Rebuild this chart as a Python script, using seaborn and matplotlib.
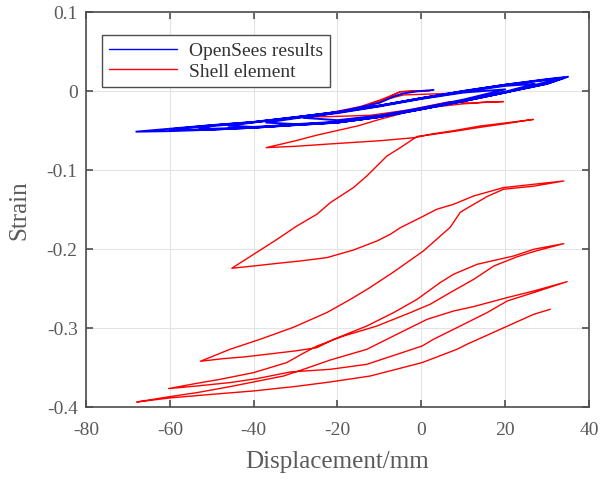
"""
Strain vs displacement hysteresis: OpenSees fibre model vs shell element.
"""
import matplotlib
matplotlib.use("Agg")
import matplotlib.pyplot as plt
import seaborn as sns

# --- data (displacement in mm, strain) ---
# OpenSees results: one continuous loading path
blue_x = [2.9, -1.0, -4.2, -6.6, -10.0, -20.0, -28.0,
          -20.0, -10.0, 0.0, 10.0, 20.0,
          10.0, 0.0, -10.0, -20.0, -30.0, -37.0,
          -30.0, -20.0, -10.0, 0.0, 10.0, 20.0, 27.0,
          20.0, 10.0, 0.0, -10.0, -20.0, -30.0, -40.0, -46.0,
          -40.0, -30.0, -20.0, -10.0, 0.0, 10.0, 20.0, 30.0, 34.0,
          30.0, 20.0, 10.0, 0.0, -10.0, -20.0, -30.0, -40.0, -50.0, -53.0,
          -50.0, -40.0, -30.0, -20.0, -10.0, 0.0, 10.0, 20.0, 30.0, 34.0,
          30.0, 20.0, 10.0, 0.0, -10.0, -20.0, -30.0, -40.0, -50.0, -60.0,
          -50.0, -40.0, -30.0, -20.0, -10.0, 0.0, 10.0, 20.0, 30.0, 35.0,
          30.0, 20.0, 10.0, 0.0, -10.0, -20.0, -30.0, -40.0, -50.0, -60.0, -68.0,
          -60.0, -50.0, -40.0, -30.0, -20.0, -10.0, 0.0, 10.0, 20.0, 31.0]
blue_y = [0.0013, -0.0005, -0.0030, -0.0070, -0.0150, -0.0270, -0.0340,
          -0.0370, -0.0310, -0.0215, -0.0110, 0.0020,
          -0.0020, -0.0100, -0.0195, -0.0280, -0.0345, -0.0400,
          -0.0420, -0.0390, -0.0320, -0.0225, -0.0120, -0.0010, 0.0090,
          0.0065, -0.0010, -0.0095, -0.0190, -0.0272, -0.0338, -0.0398, -0.0440,
          -0.0455, -0.0425, -0.0395, -0.0325, -0.0228, -0.0125, -0.0015, 0.0095, 0.0165,
          0.0140, 0.0075, -0.0005, -0.0092, -0.0188, -0.0268, -0.0335, -0.0395, -0.0445, -0.0465,
          -0.0478, -0.0462, -0.0428, -0.0398, -0.0328, -0.0230, -0.0128, -0.0018, 0.0092, 0.0168,
          0.0145, 0.0078, -0.0002, -0.0090, -0.0186, -0.0266, -0.0332, -0.0393, -0.0435, -0.0485,
          -0.0488, -0.0465, -0.0430, -0.0400, -0.0330, -0.0232, -0.0130, -0.0020, 0.0090, 0.0180,
          0.0150, 0.0080, 0.0000, -0.0090, -0.0185, -0.0265, -0.0330, -0.0392, -0.0432, -0.0478, -0.0515,
          -0.0508, -0.0490, -0.0465, -0.0432, -0.0400, -0.0330, -0.0232, -0.0130, -0.0020, 0.0130]

# Shell element: one continuous loading path
red_x = [6.9, 1.0, -4.2, -7.4, -12.0, -8.5, -5.0, 2.1, -1.5, -5.0, -9.8, -14.6, -21.7, -28.1,
         -21.7, -12.2, -3.0, 3.0, 6.9, 11.7, 15.5, 19.6,
         14.0, 9.5, 5.3, 0.5, -5.0, -10.0, -15.0, -19.7, -25.0, -30.0, -37.0,
         -30.0, -21.7, -10.0, -1.4, 2.1, 8.0, 14.1, 20.0, 26.7,
         20.0, 14.0, 8.0, 2.0, -1.0,
         -5.0, -8.2, -10.6, -13.0, -16.2, -21.7, -24.9, -29.7, -34.4, -40.0, -45.2,
         -40.0, -34.0, -28.9, -22.5, -16.2, -10.6, -7.4, -5.0, -0.2, 3.7, 7.7, 12.5, 19.6, 26.8, 34.0,
         26.8, 19.6, 15.8, 11.7, 9.3, 6.9, 0.5, -6.7, -12.9, -17.0, -22.4, -30.5, -38.4, -45.6, -52.7,
         -47.2, -42.0, -36.8, -30.0, -24.9,
         -20.9, -13.0, -6.6, -1.0, 4.5, 7.7, 13.3, 22.0, 26.8, 34.0,
         27.0, 22.8, 17.3, 12.5, 6.9, 2.1, -2.6, -10.6, -18.5, -24.9,
         -28.5, -32.1, -40.0, -48.0, -53.5, -60.3,
         -53.5, -45.6, -39.2, -31.3, -21.7, -13.0, -5.8, 0.2, 2.9, 9.3, 15.7, 20.5, 26.8, 34.8,
         26.8, 20.5, 12.5, 7.7, 1.4, -5.0, -13.0, -21.7, -28.1, -32.9, -40.0, -45.6, -53.5, -59.9, -67.9,
         -59.9, -50.0, -40.0, -30.0, -21.7, -12.2, -5.8, 0.2, 8.5, 10.9, 18.9, 26.8, 30.8]
red_y = [-0.0030, -0.0040, -0.0050, -0.0092, -0.0160, -0.0100, -0.0008, 0.0005, 0.0000, -0.0010,
         -0.0114, -0.0198, -0.0274, -0.0330,
         -0.0324, -0.0308, -0.0240, -0.0175, -0.0134, -0.0156, -0.0140, -0.0134,
         -0.0147, -0.0165, -0.0190, -0.0219, -0.0290, -0.0360, -0.0440, -0.0497, -0.0560, -0.0630, -0.0717,
         -0.0700, -0.0670, -0.0630, -0.0590, -0.0548, -0.0500, -0.0443, -0.0405, -0.0360,
         -0.0415, -0.0460, -0.0510, -0.0555, -0.0575,
         -0.0717, -0.0823, -0.0949, -0.1076, -0.1223, -0.1413, -0.1560, -0.1709, -0.1877, -0.2067, -0.2244,
         -0.2215, -0.2180, -0.2152, -0.2109, -0.2013, -0.1899, -0.1814, -0.1730, -0.1603, -0.1497,
         -0.1434, -0.1329, -0.1223, -0.1181, -0.1139,
         -0.1205, -0.1244, -0.1333, -0.1459, -0.1535, -0.1725, -0.2025, -0.2294, -0.2510, -0.2640,
         -0.2801, -0.2991, -0.3142, -0.3269, -0.3421,
         -0.3388, -0.3365, -0.3333, -0.3290, -0.3249,
         -0.3143, -0.2975, -0.2805, -0.2637, -0.2425, -0.2320, -0.2194, -0.2089, -0.2004, -0.1932,
         -0.2030, -0.2100, -0.2215, -0.2384, -0.2552, -0.2700, -0.2805, -0.2975, -0.3101, -0.3228,
         -0.3330, -0.3438, -0.3565, -0.3650, -0.3700, -0.3767,
         -0.3734, -0.3691, -0.3641, -0.3557, -0.3523, -0.3460, -0.3333, -0.3228, -0.3143, -0.2975,
         -0.2805, -0.2658, -0.2552, -0.2413,
         -0.2532, -0.2615, -0.2729, -0.2785, -0.2890, -0.3058, -0.3270, -0.3405, -0.3523, -0.3608,
         -0.3683, -0.3742, -0.3818, -0.3868, -0.3937,
         -0.3885, -0.3840, -0.3797, -0.3740, -0.3683, -0.3608, -0.3520, -0.3438, -0.3270, -0.3206,
         -0.3016, -0.2827, -0.2763]

x_ticks = [-80, -60, -40, -20, 0, 20, 40]
y_ticks = [-0.4, -0.3, -0.2, -0.1, 0, 0.1]
y_tick_labels = ["-0.4", "-0.3", "-0.2", "-0.1", "0", "0.1"]

sns.set_theme(style="whitegrid")
plt.rcParams["font.family"] = ["Liberation Serif", "DejaVu Serif"]

axis_grey = "#4d4d4d"
text_grey = "#5a5a5a"

fig, ax = plt.subplots(figsize=(6.01, 4.81), dpi=100)
fig.subplots_adjust(left=0.1431, right=0.980, bottom=0.1518, top=0.973)

sns.lineplot(x=blue_x, y=blue_y, sort=False, estimator=None, color="#0000ff",
             linewidth=1.4, label="OpenSees results", ax=ax, zorder=3)
sns.lineplot(x=red_x, y=red_y, sort=False, estimator=None, color="#ff0000",
             linewidth=1.0, label="Shell element", ax=ax, zorder=2)

ax.set_xlim(-80, 40)
ax.set_ylim(-0.4, 0.1)
ax.set_xticks(x_ticks)
ax.set_xticklabels([str(t) for t in x_ticks])
ax.set_yticks(y_ticks)
ax.set_yticklabels(y_tick_labels)

ax.set_facecolor("white")
ax.grid(True, color="#e3e3e3", linewidth=0.8)
for side in ["left", "right", "top", "bottom"]:
    ax.spines[side].set_visible(True)
    ax.spines[side].set_color(axis_grey)
    ax.spines[side].set_linewidth(1.2)

ax.tick_params(axis="both", direction="in", length=5, width=1.2, color=axis_grey,
               labelsize=14, labelcolor=text_grey, top=True, right=True,
               bottom=True, left=True)
ax.tick_params(axis="x", pad=10)
ax.tick_params(axis="y", pad=6)

ax.set_xlabel("Displacement/mm", fontsize=18, color=text_grey, labelpad=9)
ax.set_ylabel("Strain", fontsize=18, color=text_grey, labelpad=12)

leg = ax.legend(loc="upper left", bbox_to_anchor=(0.032, 0.942), borderaxespad=0,
                fontsize=14, frameon=True, fancybox=False, handlelength=3.5,
                handletextpad=0.6, borderpad=0.35, labelspacing=0.15)
leg.get_frame().set_edgecolor(axis_grey)
leg.get_frame().set_linewidth(1.0)
leg.get_frame().set_facecolor("white")
leg.get_frame().set_alpha(1.0)
for line in leg.get_lines():
    line.set_linewidth(1.0)
for t in leg.get_texts():
    t.set_color("#333333")

fig.savefig("out.png", dpi=100)
plt.close(fig)
